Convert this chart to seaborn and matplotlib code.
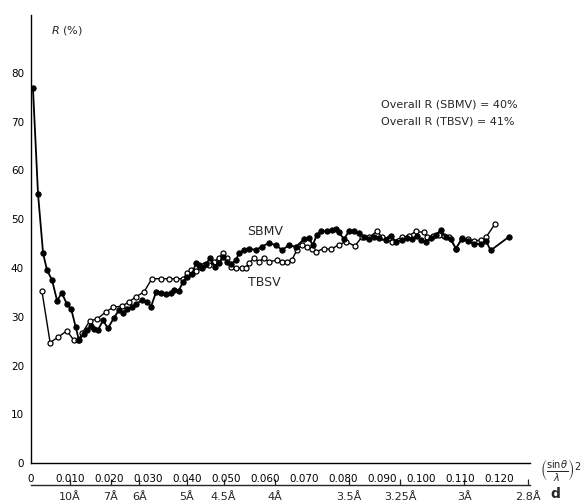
import matplotlib
matplotlib.use("Agg")
import matplotlib.pyplot as plt
import seaborn as sns
import pandas as pd

# (sin(theta)/lambda)^2 and R (%)
sbmv_s2 = [0.0005, 0.0018, 0.0031, 0.0041, 0.0054, 0.0067, 0.0079, 0.0092, 0.0103, 0.0115,
           0.0123, 0.0136, 0.0144, 0.0154, 0.0162, 0.0172, 0.0185, 0.0197, 0.0213, 0.0226,
           0.0236, 0.0246, 0.0259, 0.0269, 0.0285, 0.0297, 0.0308, 0.0321, 0.0333, 0.0346,
           0.0359, 0.0367, 0.0379, 0.0390, 0.0400, 0.0413, 0.0423, 0.0431, 0.0438, 0.0449,
           0.0459, 0.0472, 0.0482, 0.0492, 0.0503, 0.0513, 0.0526, 0.0533, 0.0546, 0.0559,
           0.0577, 0.0592, 0.0610, 0.0628, 0.0644, 0.0662, 0.0679, 0.0700, 0.0713, 0.0723,
           0.0733, 0.0744, 0.0759, 0.0772, 0.0782, 0.0790, 0.0803, 0.0815, 0.0828, 0.0841,
           0.0854, 0.0867, 0.0879, 0.0892, 0.0910, 0.0923, 0.0936, 0.0951, 0.0964, 0.0977,
           0.0990, 0.1000, 0.1013, 0.1026, 0.1038, 0.1051, 0.1064, 0.1077, 0.1090, 0.1105,
           0.1121, 0.1136, 0.1154, 0.1167, 0.1179, 0.1226]
sbmv_r = [76.9, 55.2, 43.0, 39.6, 37.5, 33.3, 34.9, 32.6, 31.6, 27.8,
          25.2, 26.5, 27.3, 28.1, 27.4, 27.3, 29.3, 27.6, 29.8, 31.4,
          30.8, 31.5, 31.9, 32.6, 33.4, 33.1, 32.1, 35.1, 34.9, 34.7,
          34.8, 35.5, 35.3, 37.2, 38.2, 38.7, 41.0, 40.6, 40.1, 40.8,
          42.0, 40.3, 41.0, 42.3, 41.3, 40.8, 41.6, 43.0, 43.7, 44.0,
          43.7, 44.4, 45.1, 44.7, 43.7, 44.7, 44.3, 45.9, 46.1, 44.7,
          46.8, 47.5, 47.6, 47.7, 48.0, 47.3, 45.9, 47.5, 47.6, 47.1,
          46.3, 45.9, 46.4, 46.1, 45.7, 46.6, 45.4, 45.7, 46.1, 45.9,
          46.6, 45.7, 45.4, 46.1, 46.8, 47.7, 46.3, 45.9, 44.0, 45.9,
          45.6, 44.9, 44.9, 45.6, 43.6, 46.4]

tbsv_s2 = [0.0028, 0.0049, 0.0069, 0.0092, 0.0110, 0.0121, 0.0131, 0.0151, 0.0169, 0.0192,
           0.0210, 0.0233, 0.0251, 0.0269, 0.0290, 0.0310, 0.0333, 0.0354, 0.0372, 0.0390,
           0.0400, 0.0410, 0.0423, 0.0433, 0.0444, 0.0456, 0.0469, 0.0482, 0.0492, 0.0503,
           0.0513, 0.0526, 0.0541, 0.0551, 0.0559, 0.0572, 0.0585, 0.0597, 0.0610, 0.0631,
           0.0644, 0.0656, 0.0669, 0.0682, 0.0695, 0.0708, 0.0721, 0.0731, 0.0751, 0.0769,
           0.0790, 0.0808, 0.0831, 0.0849, 0.0867, 0.0887, 0.0900, 0.0918, 0.0926, 0.0951,
           0.0969, 0.0987, 0.1008, 0.1015, 0.1031, 0.1046, 0.1059, 0.1072, 0.1090, 0.1105,
           0.1121, 0.1136, 0.1154, 0.1167, 0.1190]
tbsv_r = [35.3, 24.7, 25.8, 27.1, 25.2, 25.2, 26.6, 29.2, 29.5, 31.0,
          31.9, 32.2, 33.0, 34.1, 35.1, 37.8, 37.8, 37.8, 37.8, 37.8,
          38.9, 39.6, 39.3, 40.3, 40.6, 40.6, 41.3, 42.0, 43.0, 42.0,
          40.3, 40.0, 40.0, 40.1, 41.0, 42.0, 41.3, 42.0, 41.3, 41.6,
          41.3, 41.3, 41.6, 43.7, 44.7, 44.4, 44.0, 43.3, 44.0, 43.8,
          44.8, 45.4, 44.5, 46.4, 46.3, 47.5, 46.4, 46.1, 45.4, 46.3,
          46.6, 47.5, 47.3, 46.3, 46.6, 46.8, 46.6, 46.3, 44.0, 46.1,
          45.9, 45.6, 45.7, 46.3, 49.0]

x_ticks = [0, 0.010, 0.020, 0.030, 0.040, 0.050, 0.060, 0.070, 0.080, 0.090, 0.100, 0.110, 0.120]
x_labels = ['0', '0.010', '0.020', '0.030', '0.040', '0.050', '0.060',
            '0.070', '0.080', '0.090', '0.100', '0.110', '0.120']
y_ticks = [0, 10, 20, 30, 40, 50, 60, 70, 80]
d_values = [10, 7, 6, 5, 4.5, 4, 3.5, 3.25, 3, 2.8]
d_labels = ['10Å', '7Å', '6Å', '5Å', '4.5Å', '4Å', '3.5Å', '3.25Å', '3Å', '2.8Å']

sbmv = pd.DataFrame({'s2': sbmv_s2, 'R': sbmv_r})
tbsv = pd.DataFrame({'s2': tbsv_s2, 'R': tbsv_r})

sns.set_style('white')
plt.rcParams['font.family'] = ['DejaVu Sans']

fig = plt.figure(figsize=(5.88, 5.03), dpi=100)
ax = fig.add_axes([31 / 588, 40 / 503, 499 / 588, 448.5 / 503])

sns.lineplot(data=tbsv, x='s2', y='R', ax=ax, color='black', lw=1, estimator=None,
             marker='o', markersize=3.6, markerfacecolor='white', markeredgecolor='black',
             markeredgewidth=0.9)
sns.lineplot(data=sbmv, x='s2', y='R', ax=ax, color='black', lw=1.3, estimator=None,
             marker='o', markersize=3.8, markerfacecolor='black', markeredgecolor='black')

ax.set_xlim(0, 0.128)
ax.set_ylim(0, 92)
for s in ['top', 'right']:
    ax.spines[s].set_visible(False)
for s in ['left', 'bottom']:
    ax.spines[s].set_color('black')
    ax.spines[s].set_linewidth(1)

ax.set_xticks(x_ticks)
ax.set_xticklabels(x_labels)
ax.set_yticks(y_ticks)
ax.set_xticks([0.128], minor=True)
ax.set_yticks([92], minor=True)
ax.tick_params(axis='both', which='both', direction='in', length=4, width=0.9,
               colors='black', labelsize=7.5)
ax.tick_params(axis='x', pad=8)
ax.tick_params(axis='y', pad=5)
ax.set_xlabel('')
ax.set_ylabel('')

# d-spacing scale under the main axis
sec = ax.secondary_xaxis(-0.049)
sec.set_xticks([1 / d ** 2 for d in d_values])
sec.set_xticklabels(d_labels)
sec.tick_params(direction='in', length=4, width=0.9, labelsize=8, pad=5)
sec.spines['bottom'].set_linewidth(1)

ax.text(0.0051, 88.8, r'$R$ (%)', fontsize=8, va='center', ha='left')
ax.text(0.0600, 47.4, 'SBMV', fontsize=9, ha='center', va='center')
ax.text(0.0598, 37.0, 'TBSV', fontsize=9, ha='center', va='center')
ax.text(0.0897, 73.6, 'Overall R (SBMV) = 40%', fontsize=8, ha='left', va='center')
ax.text(0.0897, 70.1, 'Overall R (TBSV) = 41%', fontsize=8, ha='left', va='center')

ax.text(1.062, -0.016, r'$\left(\frac{\mathrm{sin}\theta}{\lambda}\right)^2$', fontsize=10,
        transform=ax.transAxes, ha='center', va='center')
ax.text(1.05, -0.085, 'd', fontsize=10, fontweight='bold',
        transform=ax.transAxes, ha='center', va='bottom')

fig.savefig('out.png', dpi=100)
